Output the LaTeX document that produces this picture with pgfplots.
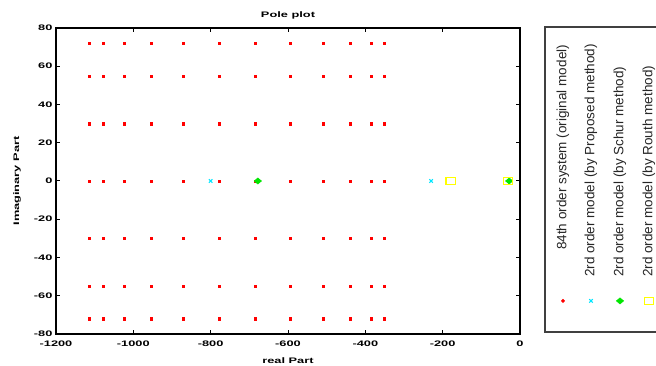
\documentclass[border=0pt]{standalone}
\usepackage{pgfplots}
\pgfplotsset{compat=1.18}
\usepackage{fontspec}
\setmainfont{Liberation Sans}
\newfontfamily\axfont[FakeStretch=1.6]{Liberation Sans}
\pgfplotstableread{
x y
-1115 72
-1078 72
-1024 72
-954 72
-872 72
-778 72
-685 72
-595 72
-510 72
-440 72
-385 72
-352 72
-1115 55
-1078 55
-1024 55
-954 55
-872 55
-778 55
-685 55
-595 55
-510 55
-440 55
-385 55
-352 55
-1115 30
-1078 30
-1024 30
-954 30
-872 30
-778 30
-685 30
-595 30
-510 30
-440 30
-385 30
-352 30
-1115 0
-1078 0
-1024 0
-954 0
-872 0
-778 0
-685 0
-595 0
-510 0
-440 0
-385 0
-352 0
-1115 -30
-1078 -30
-1024 -30
-954 -30
-872 -30
-778 -30
-685 -30
-595 -30
-510 -30
-440 -30
-385 -30
-352 -30
-1115 -55
-1078 -55
-1024 -55
-954 -55
-872 -55
-778 -55
-685 -55
-595 -55
-510 -55
-440 -55
-385 -55
-352 -55
-1115 -72
-1078 -72
-1024 -72
-954 -72
-872 -72
-778 -72
-685 -72
-595 -72
-510 -72
-440 -72
-385 -72
-352 -72
}\origpoles
\definecolor{mred}{RGB}{255,0,0}
\definecolor{mcyan}{RGB}{0,230,255}
\definecolor{mgreen}{RGB}{0,230,0}
\definecolor{myellow}{RGB}{255,255,0}
\begin{document}
\begin{tikzpicture}
\begin{axis}[
  at={(56pt,32pt)}, anchor=south west,
  scale only axis, width=464pt, height=306pt,
  xmin=-1200, xmax=0, ymin=-80, ymax=80,
  clip=false,
  xtick={-1200,-1000,...,0}, ytick={-80,-60,...,80},
  tick align=inside, major tick length=4pt,
  axis line style={line width=1.2pt},
  every tick/.style={line width=1pt, black},
  /pgf/number format/assume math mode=true,
  /pgf/number format/set thousands separator={},
  tick label style={font=\axfont\bfseries\fontsize{8}{9}\selectfont},
  xticklabel style={yshift=-3pt},
  title={Pole plot},
  title style={font=\axfont\bfseries\fontsize{8}{9}\selectfont, at={(axis description cs:0.5,1.02)}, anchor=center},
  xlabel={real Part},
  xlabel style={font=\axfont\bfseries\fontsize{8}{9}\selectfont, at={(axis description cs:0.5,-0.086)}, anchor=center},
  ylabel={Imaginary Part},
  ylabel style={font=\axfont\bfseries\fontsize{8}{9}\selectfont, at={(axis description cs:-0.084,0.5)}, anchor=center},
]
\addplot[only marks, mark=square*, mark size=1.1pt, mred, mark options={line width=0.3pt}] table[x=x,y=y] {\origpoles};
\addplot[only marks, mark=x, mark size=2.5pt, mcyan, mark options={line width=1pt}] coordinates {(-800,0) (-230,0)};
\addplot[only marks, mark=diamond*, mark size=3pt, mgreen, mark options={line width=0.6pt, xscale=1.6}] coordinates {(-678,0) (-28,0)};
\addplot[only marks, mark=square, mark size=3.5pt, myellow, mark options={line width=1.3pt, xscale=1.35}] coordinates {(-179,0) (-31,0)};
% legend markers (outside the plot area, clip=false)
\addplot[only marks, mark=square*, mark size=1.2pt, mred, mark options={rotate=45}] coordinates {(111.2,-62.7)};
\addplot[only marks, mark=x, mark size=2.5pt, mcyan, mark options={line width=1pt}] coordinates {(183.6,-62.7)};
\addplot[only marks, mark=diamond*, mark size=3pt, mgreen, mark options={line width=0.6pt, xscale=1.6}] coordinates {(258.6,-62.7)};
\addplot[only marks, mark=square, mark size=3.5pt, myellow, mark options={line width=1.3pt, xscale=1.35}] coordinates {(333.6,-62.7)};
\end{axis}
\draw[line width=1.6pt, black!75] (545pt,34pt) rectangle (672pt,339pt);
\begin{scope}[every node/.style={rotate=90, anchor=west, inner sep=0pt, font=\fontsize{13.5}{15}\selectfont, text=black!85}]
\node at (563pt,116pt) {84th order system (original model)};
\node at (591pt,89pt) {2rd order model (by Proposed method)};
\node at (620pt,89pt) {2rd order model (by Schur method)};
\node at (649pt,89pt) {2rd order model (by Routh method)};
\end{scope}
\pgfresetboundingbox
\path (0,0) rectangle (656pt,366pt);
\end{tikzpicture}
\end{document}
